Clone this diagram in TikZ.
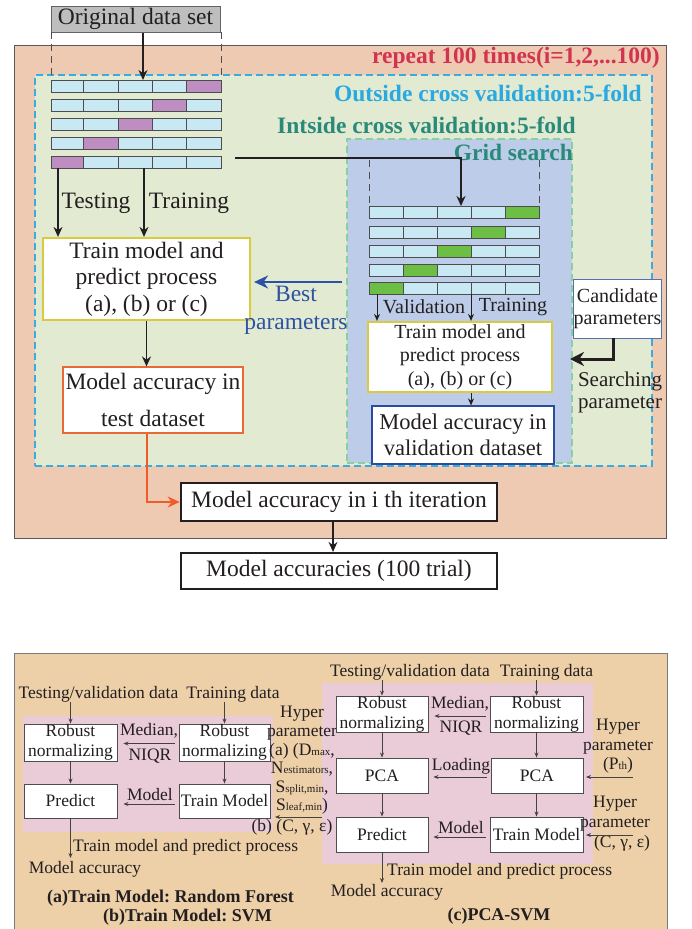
\documentclass[tikz,border=0pt]{standalone}
\usepackage{fontspec}
\setmainfont{Liberation Serif}
\usetikzlibrary{arrows.meta,calc}
\frenchspacing
\definecolor{csalmon}{RGB}{239,202,179}
\definecolor{clgreen}{RGB}{226,234,210}
\definecolor{cgridblue}{RGB}{189,204,232}
\definecolor{ccyanline}{RGB}{56,172,224}
\definecolor{cgreenline}{RGB}{138,207,159}
\definecolor{ccellblue}{RGB}{200,233,244}
\definecolor{cpurp}{RGB}{190,141,193}
\definecolor{ccellgreen}{RGB}{109,190,69}
\definecolor{ctan}{RGB}{237,208,168}
\definecolor{cpink}{RGB}{234,204,216}
\definecolor{ccrimson}{RGB}{210,51,79}
\definecolor{cskyblue}{RGB}{41,169,225}
\definecolor{cteal}{RGB}{42,138,122}
\definecolor{cybox}{RGB}{216,203,64}
\definecolor{cobox}{RGB}{232,106,53}
\definecolor{coarrow}{RGB}{241,90,41}
\definecolor{cdblue}{RGB}{43,76,158}
\definecolor{cbestblue}{RGB}{44,82,164}
\definecolor{cink}{RGB}{35,31,32}
\definecolor{cgraybox}{RGB}{190,190,190}
\newcommand\FBig{\fontsize{23.5}{26.5}\selectfont}
\newcommand\FMid{\fontsize{20}{23.5}\selectfont}
\newcommand\FSmall{\fontsize{17.5}{20}\selectfont}
\newcommand\FSub{\fontsize{11}{11}\selectfont}
\begin{document}
\frenchspacing
\begin{tikzpicture}[x=1pt,y=-1pt,
  every node/.style={text=cink, inner sep=0pt},
  box/.style={draw=cink, fill=white, align=center},
  sbox/.style={box, draw=cink!80, line width=0.9pt, font=\FSmall},
  arr/.style={draw=cink, line width=1.3pt, -{Stealth[length=10pt,width=9pt]}},
  marr/.style={draw=cink, line width=1pt, -{Stealth[length=7pt,width=6pt]}},
  sarr/.style={draw=cink!85, line width=0.8pt, -{Stealth[length=5pt,width=4pt]}},
  vdash/.style={draw=cink!80, line width=0.9pt, dash pattern=on 7pt off 5pt},
  cell/.style={draw=cink!80, line width=0.8pt},
  btitle/.style={font=\FBig\bfseries},
]
\useasboundingbox (0,0) rectangle (691,929);

% ---------- top section containers ----------
\node[draw=cink!75, line width=1pt, fill=csalmon, minimum width=652pt, minimum height=493pt] (outer) at (340,291.5) {};
\node[draw=ccyanline, line width=1.3pt, dash pattern=on 7pt off 4pt, fill=clgreen, minimum width=617pt, minimum height=391pt] (ocv) at (343.5,270.5) {};
\node[draw=cgreenline, line width=1.3pt, dash pattern=on 7pt off 4pt, fill=cgridblue, minimum width=225pt, minimum height=324pt] (grid) at (459.5,301) {};

\node[btitle, text=ccrimson, anchor=east] (trep) at (660,58) {repeat 100 times(i=1,2,...100)};
\node[btitle, text=cskyblue, anchor=east] (tout) at (642,93) {Outside cross validation:5-fold};
\node[btitle, text=cteal, anchor=east] (tin) at (576,125) {Intside cross validation:5-fold};
\node[btitle, text=cteal, anchor=east] (tgrid) at (573,152) {Grid search};

% ---------- original data set ----------
\node[draw=cink!70, line width=1pt, fill=cgraybox, minimum width=169pt, minimum height=26pt, font=\FBig] (orig) at (135.5,19) {Original data set};
\draw[vdash] (51,32) -- (51,80);
\draw[vdash] (221,32) -- (221,80);

% outer data rows
\foreach \t [count=\r] in {80,99,118,137,156} {
  \foreach \xa/\xb [count=\c] in {51/83,83/118,118/152,152/186,186/221} {
    \pgfmathtruncatemacro\hl{6-\r}
    \ifnum\c=\hl \def\cc{cpurp}\else\def\cc{ccellblue}\fi
    \draw[cell, fill=\cc] (\xa,\t) rectangle (\xb,\t+12);
  }
}
% inner data rows
\draw[vdash] (369,160) -- (369,206);
\draw[vdash] (539,160) -- (539,206);
\foreach \t [count=\r] in {206,226,245,264,282} {
  \foreach \xa/\xb [count=\c] in {369/403,403/437,437/471,471/505,505/539} {
    \pgfmathtruncatemacro\hl{6-\r}
    \ifnum\c=\hl \def\cc{ccellgreen}\else\def\cc{ccellblue}\fi
    \draw[cell, fill=\cc] (\xa,\t) rectangle (\xb,\t+12);
  }
}

\coordinate (row1top) at (143,80);
\coordinate (r5a) at (58,168);
\coordinate (r5b) at (144,168);
\coordinate (r5c) at (235,158);
\coordinate (irow1top) at (461,206);
\coordinate (ir5a) at (377,294);
\coordinate (ir5b) at (471,294);

\draw[arr] (orig.south -| row1top) -- (row1top);
\draw[draw=cink, line width=1.8pt, -{Stealth[length=10pt,width=9pt]}] (r5c) -| (irow1top);

% ---------- outer train / test ----------
\node[box, draw=cybox, line width=2.2pt, minimum width=207pt, minimum height=82pt, font=\FBig] (tm) at (146.5,279) {Train model and\\predict process\\(a), (b) or (c)};
\node[font=\FBig] (ltest) at (96,203) {Testing};
\node[font=\FBig] (ltrain) at (189,203) {Training};
\draw[arr] (r5a) -- (r5a |- tm.north);
\draw[arr] (r5b) -- (r5b |- tm.north);

\node[box, draw=cobox, line width=1.2pt, minimum width=180pt, minimum height=66pt, font=\fontsize{23.5}{37}\selectfont] (acct) at (153,400) {Model accuracy in\\test dataset};
\draw[arr] (tm.south) -- (tm.south |- acct.north);

% ---------- inner grid search ----------
\node[box, draw=cybox, line width=2.2pt, minimum width=184pt, minimum height=70pt, font=\FMid] (itm) at (460,357) {Train model and\\predict process\\(a), (b) or (c)};
\node[font=\FMid] (lval) at (424,307) {Validation};
\node[font=\FMid] (litrain) at (513,307) {Training};
\draw[marr] (ir5a) -- (ir5a |- itm.north);
\draw[marr] (ir5b) -- (ir5b |- itm.north);

\node[box, draw=cdblue, line width=1.2pt, minimum width=182pt, minimum height=58pt, font=\fontsize{22.5}{26}\selectfont] (accv) at (463,435) {Model accuracy in\\validation dataset};
\draw[marr] (ir5b |- itm.south) -- (ir5b |- accv.north);

% best parameters
\coordinate (bp) at (300,282);
\draw[draw=cbestblue, line width=2pt, -{Stealth[length=14pt,width=13pt]}] ([xshift=-4pt]grid.west |- bp) -- ([xshift=3pt]tm.east |- bp);
\node[font=\FBig, text=cbestblue, align=center] (lbest) at (296,310) {Best\\[1.5pt]parameters};

% candidate parameters
\node[box, draw=cdblue!80, line width=1pt, minimum width=87pt, minimum height=59pt, font=\fontsize{20}{22}\selectfont] (cand) at (617.5,308.5) {Candidate\\parameters};
\coordinate (sp1) at (613,338);
\coordinate (sp2) at (570,359);
\draw[draw=cink, line width=3pt, -{Stealth[length=14pt,width=14pt]}] (sp1) |- (sp2);
\node[font=\fontsize{21}{22}\selectfont, align=center] (lsearch) at (620,392) {Searching\\parameter};

% ---------- iteration ----------
\node[box, line width=2.6pt, minimum width=316pt, minimum height=38pt, font=\FBig] (iter) at (339,502) {Model accuracy in i th iteration};
\node[box, line width=2.2pt, minimum width=316pt, minimum height=36pt, font=\FBig] (trials) at (339,571) {Model accuracies (100 trial)};
\draw[draw=coarrow, line width=2pt, -{Stealth[length=12pt,width=11pt]}] (tm.south |- acct.south) |- (iter.west);
\draw[arr] ([xshift=-6pt]iter.south) -- ([xshift=-6pt]trials.north);

% ---------- bottom section ----------
\fill[ctan] (14,653) rectangle (667,929);
\draw[draw=cink!60, line width=1pt] (14,929) -- (14,653) -- (667,653) -- (667,929);
\fill[cpink] (23,716) rectangle (273,832);
\fill[cpink] (322,683) rectangle (593,864);

% (a)/(b)
\node[font=\FSmall] (tvA) at (98.5,694) {Testing/validation data};
\node[font=\FSmall] (tdA) at (233,694) {Training data};
\node[sbox, minimum width=93pt, minimum height=37pt] (rnA1) at (70.5,742.5) {Robust\\normalizing};
\node[sbox, minimum width=91pt, minimum height=37pt] (rnA2) at (224.5,742.5) {Robust\\normalizing};
\node[sbox, minimum width=93pt, minimum height=34pt] (prA) at (70.5,801) {Predict};
\node[sbox, minimum width=91pt, minimum height=34pt] (tmA) at (224.5,801) {Train Model};
\draw[sarr] (rnA1.north |- tvA.south) -- (rnA1.north);
\draw[sarr] (rnA2.north |- tdA.south) -- (rnA2.north);
\draw[sarr] (rnA1.south) -- (prA.north);
\draw[sarr] (rnA2.south) -- (tmA.north);
\node[font=\FSmall] (mnA1) at (149,731) {Median,};
\node[font=\FSmall] (mnA2) at (150,756) {NIQR};
\draw[sarr] ([xshift=-4pt,yshift=-1pt]rnA2.west) -- ([xshift=6pt,yshift=-1pt]rnA1.east);
\node[font=\FSmall] (mdA) at (150,795) {Model};
\draw[sarr] ([xshift=-4pt,yshift=-3pt]tmA.west) -- ([xshift=6pt,yshift=-3pt]prA.east);
\coordinate (maA) at (70.5,858);
\draw[sarr] (prA.south) -- (maA);
\node[font=\FSmall, anchor=west] (ptA) at (73,847) {Train model and predict process};
\node[font=\FSmall] (accA) at (85,869) {Model accuracy};
\node[font=\fontsize{18}{19}\selectfont\bfseries] (ttlA) at (170.5,898) {(a)Train Model: Random Forest};
\node[font=\fontsize{18}{19}\selectfont\bfseries] (ttlB) at (187.5,917) {(b)Train Model: SVM};
\node[font=\fontsize{17.5}{18.6}\selectfont, align=center] (hpA) at (302,760.5) {Hyper\\parameter\\(a) (D{\FSub max},\\N{\FSub estimators},\\S{\FSub split,min},\\S{\FSub leaf,min})};
\node[font=\FSmall] (hpB) at (292,827) {(b) (C, γ, ε)};
\coordinate (hpA1) at (322,817);
\coordinate (hpA2) at (275,817);
\draw[sarr] (hpA1) -- (hpA2);

% (c)
\node[font=\FSmall] (tvC) at (410,672) {Testing/validation data};
\node[font=\FSmall] (tdC) at (546.5,672) {Training data};
\node[sbox, minimum width=92pt, minimum height=34pt] (rnC1) at (382,714) {Robust\\normalizing};
\node[sbox, minimum width=93pt, minimum height=34pt] (rnC2) at (536.5,714) {Robust\\normalizing};
\node[sbox, minimum width=92pt, minimum height=35pt] (pcC1) at (382,775.5) {PCA};
\node[sbox, minimum width=92pt, minimum height=35pt] (pcC2) at (537,775.5) {PCA};
\node[sbox, minimum width=92pt, minimum height=35pt] (prC) at (382,834.5) {Predict};
\node[sbox, minimum width=93pt, minimum height=35pt] (tmC) at (536.5,834.5) {Train Model};
\draw[sarr] (rnC1.north |- tvC.south) -- (rnC1.north);
\draw[sarr] (rnC2.north |- tdC.south) -- (rnC2.north);
\draw[sarr] (rnC1.south) -- (pcC1.north);
\draw[sarr] (pcC1.south) -- (prC.north);
\draw[sarr] (rnC2.south) -- (rnC2.south |- pcC2.north);
\draw[sarr] (rnC2.south |- pcC2.south) -- (rnC2.south |- tmC.north);
\node[font=\FSmall] (mnC1) at (460,704) {Median,};
\node[font=\FSmall] (mnC2) at (461,728) {NIQR};
\draw[sarr] ([xshift=-4pt,yshift=-2pt]rnC2.west) -- ([xshift=6pt,yshift=-2pt]rnC1.east);
\node[font=\FSmall] (ldC) at (461,766) {Loading};
\draw[sarr] ([xshift=-4pt,yshift=-1.5pt]pcC2.west) -- ([xshift=5pt,yshift=-1.5pt]pcC1.east);
\node[font=\FSmall] (mdC) at (461,828) {Model};
\draw[sarr] ([xshift=-4pt,yshift=-2.5pt]tmC.west) -- ([xshift=5pt,yshift=-2.5pt]prC.east);
\node[font=\fontsize{17.5}{19.5}\selectfont, align=center] (hpC1) at (618,746.5) {Hyper\\parameter\\(P{\FSub th})};
\coordinate (hc1a) at (633,777);
\coordinate (hc1b) at (586,777);
\draw[sarr] (hc1a) -- (hc1b);
\node[font=\fontsize{17.5}{19.5}\selectfont, align=center] (hpC2) at (615,813.5) {Hyper\\parameter};
\node[font=\FSmall] (hpC3) at (622,843) {(C, γ, ε)};
\coordinate (hc2a) at (633,835);
\coordinate (hc2b) at (586,835);
\draw[sarr] (hc2a) -- (hc2b);
\coordinate (maC) at (382,883);
\draw[sarr] (prC.south) -- (maC);
\node[font=\FSmall, anchor=west] (ptC) at (387,871) {Train model and predict process};
\node[font=\FSmall] (accC) at (387,892) {Model accuracy};
\node[font=\fontsize{18}{19}\selectfont\bfseries] (ttlC) at (499,916) {(c)PCA-SVM};
\end{tikzpicture}
\end{document}
